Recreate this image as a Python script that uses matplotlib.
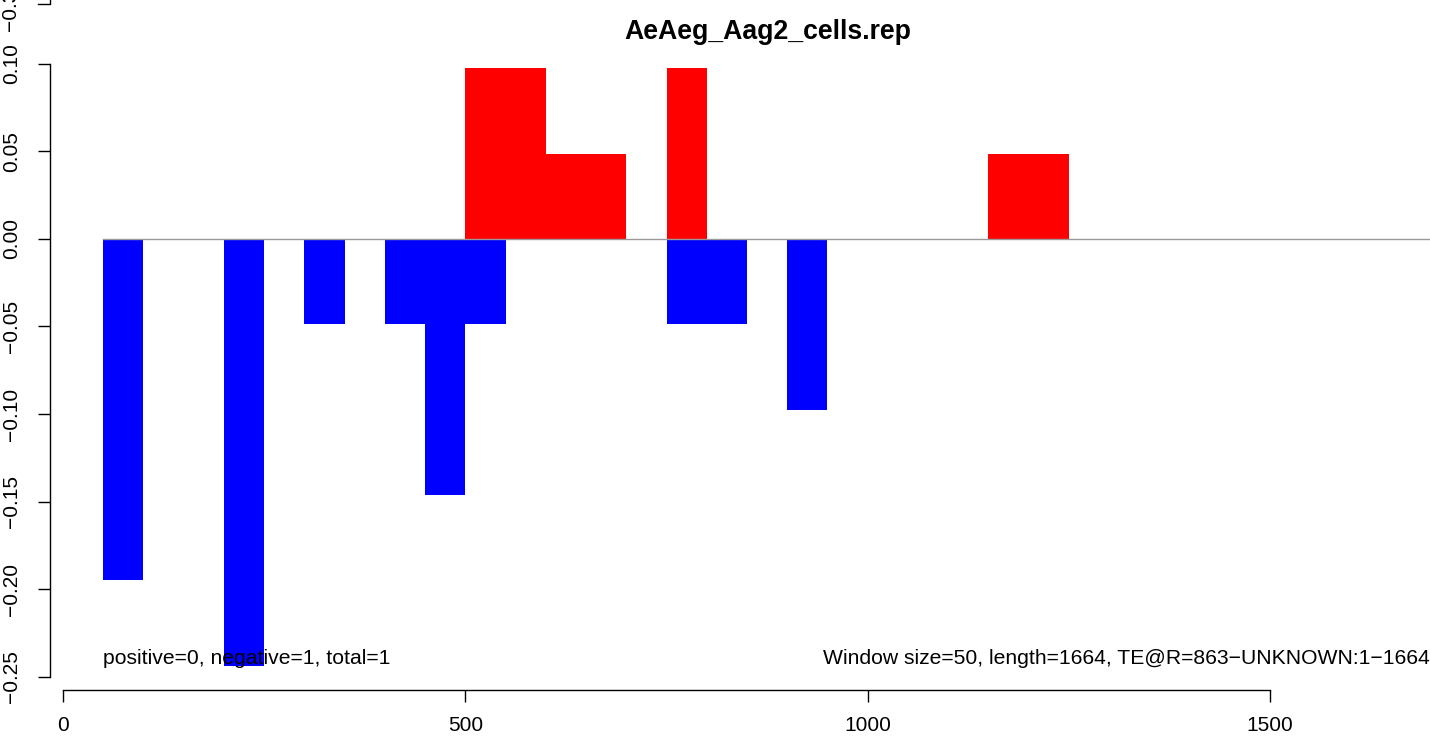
import matplotlib
matplotlib.use("Agg")
import matplotlib.pyplot as plt
from matplotlib.transforms import blended_transform_factory

plt.rcParams['font.family'] = ['Liberation Sans', 'DejaVu Sans']

# windows of 50 along the TE, share of reads per window
title = "AeAeg_Aag2_cells.rep"
window = 50
pos_start = [500, 550, 600, 650, 750, 1150, 1200]
pos_val = [0.0976, 0.0976, 0.0488, 0.0488, 0.0976, 0.0488, 0.0488]
neg_start = [50, 200, 300, 400, 450, 500, 750, 800, 900]
neg_val = [-0.1951, -0.2439, -0.0488, -0.0488, -0.1463, -0.0488, -0.0488, -0.0488, -0.0976]
x_ticks = [0, 500, 1000, 1500]
y_ticks = [-0.25, -0.20, -0.15, -0.10, -0.05, 0.00, 0.05, 0.10]
left_note = "positive=0, negative=1, total=1"
right_note = "Window size=50, length=1664, TE@R=863\u2212UNKNOWN:1\u22121664"

fig = plt.figure(figsize=(14.3, 7.37), dpi=100)
ax = fig.add_axes([0, 0, 1, 1])
ax.set_xlim(-78.3, 1698.8)
ax.set_ylim(-0.28457, 0.13657)

ax.bar(neg_start, neg_val, width=window, align='edge', color='blue', linewidth=0)
ax.bar(pos_start, pos_val, width=window, align='edge', color='red', linewidth=0)
ax.plot([50, 1700], [0, 0], color='#999999', lw=1.0, zorder=3)

# R style axes
for s in ['top', 'right']:
    ax.spines[s].set_visible(False)
ax.spines['left'].set_position(('data', -16.2))
ax.spines['left'].set_bounds(-0.25, 0.10)
ax.spines['bottom'].set_position(('data', -0.2577))
ax.spines['bottom'].set_bounds(0, 1500)
for s in ['left', 'bottom']:
    ax.spines[s].set_linewidth(1.0)

ax.set_xticks(x_ticks)
ax.set_xticklabels([str(v) for v in x_ticks])
ax.set_yticks(y_ticks)
ax.set_yticklabels([("%.2f" % v).replace('-', '\u2212') for v in y_ticks],
                   rotation=90, va='center')
ax.tick_params(axis='both', direction='out', length=8.6, width=1.0,
               labelsize=15, colors='black')
ax.tick_params(axis='x', pad=10)
ax.tick_params(axis='y', pad=12.5)

# leftover axis end from the panel above
ax.plot([-31, -16.2, -16.2], [0.1343, 0.1343, 0.14], color='black', lw=1.0, clip_on=False)
ax.text(-65, 0.1343, "\u22120.30", rotation=90, ha='center', va='center', fontsize=15)

ax.text(50, -0.2395, left_note, ha='left', va='center', fontsize=15.2)
tr = blended_transform_factory(ax.transAxes, ax.transData)
ax.text(1.0, -0.2395, right_note, transform=tr, ha='right', va='center', fontsize=15.2)

ax.text(875.5, 0.118, title, ha='center', va='center', fontsize=19.2, fontweight='bold')

fig.savefig("out.png", dpi=100)
